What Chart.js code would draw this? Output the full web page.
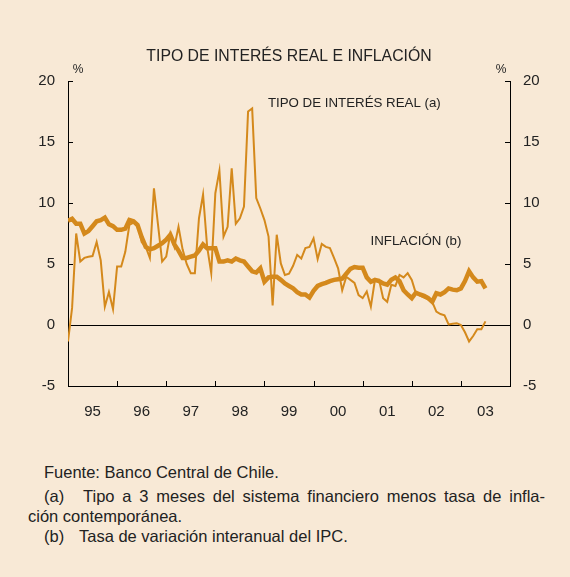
<!DOCTYPE html>
<html lang="es">
<head>
<meta charset="UTF-8">
<title>Tipo de interés real e inflación</title>
<script src="https://cdn.jsdelivr.net/npm/chart.js"></script>
<style>
  body { margin: 0; background: #f8e9d6; }
  #wrap { position: relative; width: 570px; height: 577px; background: #f8e9d6; font-family: "Liberation Sans", Arial, sans-serif; color: #222; }
  canvas { position: absolute; left: 0; top: 0; }
  .nota { position: absolute; font-size: 16.5px; white-space: nowrap; line-height: 18px; }
  .just { text-align: justify; text-align-last: justify; white-space: normal; }
</style>
</head>
<body>
<div id="wrap">
  <canvas id="grafico" width="570" height="440"></canvas>
  <div class="nota" style="left:44px; top:463px;">Fuente: Banco Central de Chile.</div>
  <div class="nota" style="left:44px; top:487px;">(a)</div>
  <div class="nota just" style="left:83px; top:487px; width:462px;">Tipo a 3 meses del sistema financiero menos tasa de infla-</div>
  <div class="nota" style="left:28px; top:507px;">ción contemporánea.</div>
  <div class="nota" style="left:44px; top:527px;">(b)</div>
  <div class="nota" style="left:79px; top:527px;">Tasa de variación interanual del IPC.</div>
</div>

<script>
    // datos mensuales desde enero de 1995
    var anioInicio = 1995;

    var tipoInteresReal = [
        -1.35, 1.4, 7.5, 5.2, 5.5, 5.6, 5.65, 6.8, 5.3, 1.5, 2.7, 1.3,
        4.8, 4.8, 6.0, 8.2, 8.4, 8.3, 6.8, 6.4, 5.5, 11.2, 8.2, 5.2,
        5.6, 7.5, 6.4, 8.05, 6.2, 5.0, 4.25, 4.25, 8.75, 10.7, 6.4, 4.25,
        10.8, 12.65, 7.25, 8.05, 12.85, 8.3, 8.75, 9.7, 17.5, 17.75, 10.4, 9.55,
        8.6, 7.25, 1.6, 7.4, 5.05, 4.1, 4.2, 4.85, 5.75, 5.45, 6.3, 6.4,
        7.1, 5.4, 6.65, 6.4, 6.3, 5.5, 4.65, 2.85, 3.95, 3.7, 3.45, 2.45,
        2.2, 2.75, 1.5, 3.7, 3.7, 2.2, 1.9, 3.3, 3.2, 4.1, 3.9, 4.25,
        3.7, 2.6, 2.4, 2.25, 2.1, 1.9, 1.1, 0.9, 0.8, 0.05, 0.1, 0.15,
        0.0, -0.6, -1.35, -0.9, -0.35, -0.35, 0.3
    ];

    var inflacion = [
        8.55, 8.7, 8.3, 8.3, 7.5, 7.7, 8.1, 8.5, 8.6, 8.8, 8.25, 8.1,
        7.8, 7.8, 7.9, 8.6, 8.5, 8.2, 7.2, 6.4, 6.2, 6.3, 6.5, 6.7,
        7.0, 7.4, 6.6, 6.1, 5.5, 5.5, 5.6, 5.7, 6.1, 6.6, 6.3, 6.3,
        6.3, 5.2, 5.2, 5.3, 5.2, 5.45, 5.3, 5.2, 4.8, 4.4, 4.3, 4.65,
        3.55, 3.9, 3.95, 3.95, 3.7, 3.4, 3.2, 3.0, 2.7, 2.5, 2.5, 2.25,
        2.8, 3.2, 3.35, 3.45, 3.6, 3.7, 3.75, 3.8, 4.2, 4.6, 4.75, 4.7,
        4.7, 3.9, 3.55, 3.7, 3.6, 3.4, 3.3, 3.7, 3.9, 3.6, 2.85, 2.5,
        2.2, 2.65, 2.5, 2.4, 2.2, 1.9, 2.6, 2.5, 2.7, 3.0, 2.9, 2.85,
        3.0, 3.6, 4.4, 3.9, 3.55, 3.6, 3.0
    ];

    var etiquetasAnio = ['95', '96', '97', '98', '99', '00', '01', '02', '03'];
    var ticksY = [-5, 0, 5, 10, 15, 20];

    var naranja = '#d4891c';
    var fuente = '"Liberation Sans", Arial, sans-serif';

    function aPuntos(serie) {
        return serie.map(function (v, i) {
            return { x: anioInicio + i / 12, y: v };
        });
    }

    // textos fijos del grafico y marcas de los ejes
    var textos = {
        id: 'textos',
        afterDraw: function (chart) {
            var c = chart.ctx;
            var xs = chart.scales.x;
            var ys = chart.scales.y;
            var area = chart.chartArea;
            c.save();
            c.strokeStyle = '#000';
            c.lineWidth = 1;
            c.beginPath();
            for (var a = anioInicio + 1; a <= 2004; a++) {
                var px = Math.round(xs.getPixelForValue(a)) + 0.5;
                c.moveTo(px, area.bottom);
                c.lineTo(px, area.bottom - 5);
            }
            c.stroke();
            c.fillStyle = '#222';
            c.textBaseline = 'middle';
            c.font = '15.8px ' + fuente;
            c.textAlign = 'center';
            c.fillText('TIPO DE INTERÉS REAL E INFLACIÓN', 289, 57);
            c.font = '12px ' + fuente;
            c.fillText('%', 78, 70);
            c.fillText('%', 501, 70);
            c.font = '13.3px ' + fuente;
            c.textAlign = 'left';
            c.fillText('TIPO DE INTERÉS REAL (a)', xs.getPixelForValue(1999.07), ys.getPixelForValue(18.2));
            c.fillText('INFLACIÓN (b)', xs.getPixelForValue(2001.16), ys.getPixelForValue(6.85));
            c.restore();
        }
    };

    const ctx = document.getElementById('grafico');

    new Chart(ctx, {
        type: 'line',
        data: {
            datasets: [{
                label: 'Tipo de interés real',
                data: aPuntos(tipoInteresReal),
                borderColor: naranja,
                borderWidth: 2,
                pointRadius: 0,
                tension: 0
            },
            {
                label: 'Inflación',
                data: aPuntos(inflacion),
                borderColor: naranja,
                borderWidth: 4.5,
                pointRadius: 0,
                tension: 0
            }]
        },
        options: {
            responsive: false,
            animation: false,
            layout: { padding: { top: 81, left: 0, right: 0, bottom: 0 } },
            plugins: {
                legend: { display: false },
                tooltip: { enabled: false }
            },
            scales: {
                x: {
                    type: 'linear',
                    position: 'bottom',
                    min: 1995,
                    max: 2004,
                    ticks: { display: false, stepSize: 1 },
                    grid: { display: false },
                    border: { display: true, color: '#000', width: 1 },
                    afterFit: function (s) { s.height = 0; }
                },
                x2: {
                    type: 'linear',
                    position: 'bottom',
                    weight: 1,
                    min: 1995,
                    max: 2004,
                    afterBuildTicks: function (s) {
                        s.ticks = etiquetasAnio.map(function (e, i) { return { value: anioInicio + i + 0.5 }; });
                    },
                    ticks: {
                        color: '#222',
                        font: { family: fuente, size: 15 },
                        padding: 9,
                        maxRotation: 0,
                        autoSkip: false,
                        callback: function (v) { return etiquetasAnio[Math.floor(v) - anioInicio]; }
                    },
                    grid: { display: false },
                    border: { display: false },
                    afterFit: function (s) { s.height = 54; }
                },
                y: {
                    position: 'left',
                    min: -5,
                    max: 20,
                    afterBuildTicks: function (s) { s.ticks = ticksY.map(function (v) { return { value: v }; }); },
                    ticks: { color: '#222', font: { family: fuente, size: 15 }, padding: 18 },
                    grid: {
                        color: function (c) { return c.tick && c.tick.value === 0 ? '#000' : 'rgba(0,0,0,0)'; },
                        tickColor: '#000',
                        tickLength: -5
                    },
                    border: { color: '#000', width: 1 },
                    afterFit: function (s) { s.width = 68; }
                },
                y2: {
                    position: 'right',
                    min: -5,
                    max: 20,
                    afterBuildTicks: function (s) { s.ticks = ticksY.map(function (v) { return { value: v }; }); },
                    ticks: { color: '#222', font: { family: fuente, size: 15 }, padding: 18 },
                    grid: { drawOnChartArea: false, tickColor: '#000', tickLength: -5 },
                    border: { color: '#000', width: 1 },
                    afterFit: function (s) { s.width = 60; }
                }
            }
        },
        plugins: [textos]
    });
</script>
</body>
</html>
